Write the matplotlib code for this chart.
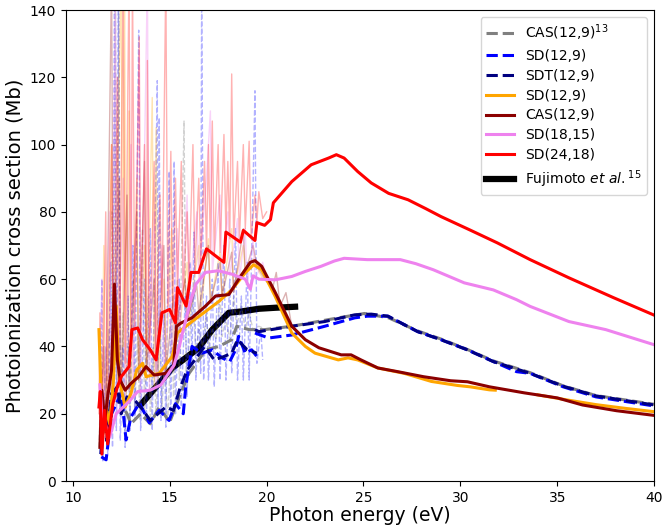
import matplotlib
matplotlib.use('Agg')
import matplotlib.pyplot as plt

# ---- smooth (convoluted) cross sections ----
red_x = [11.35, 11.42, 11.5, 11.64, 11.8, 12.07, 12.3, 12.5, 12.9, 13.05, 13.35, 13.6, 14.0, 14.3,
         14.6, 15.0, 15.3, 15.4, 15.85, 16.1, 16.5, 16.9, 17.8, 17.9, 18.65, 18.8, 19.4, 19.5, 19.9,
         20.2, 20.35, 21.3, 22.3, 23.2, 23.6, 24.0, 24.7, 25.4, 26.3, 27.3, 28.2, 29.0, 30.5, 31.9,
         33.6, 35.6, 37.9, 40.0]
red_y = [22, 26.6, 8, 21, 11, 23, 28, 31, 34, 45, 45.5, 42, 39, 36,
         50, 51, 47, 57.5, 52, 62, 62, 69, 65, 74, 71, 74.5, 71.5, 76.8, 76,
         77.7, 82.7, 89, 94, 96, 97, 96, 92, 88.6, 85.5, 83.6, 81, 78.6, 74.6, 70.8,
         65.8, 60.4, 54.5, 49.3]

violet_x = [11.4, 11.5, 11.9, 12.24, 12.9, 13.35, 14.0, 14.55, 15.23, 15.5, 15.66, 16.1, 16.35, 16.85,
            17.5, 18.2, 18.9, 19.16, 19.3, 19.6, 20.45, 21.3, 22.0, 22.8, 23.5, 24.0, 25.2, 26.9, 27.7,
            28.6, 30.2, 31.7, 32.9, 33.6, 35.6, 37.5, 40.0]
violet_y = [28.6, 20, 13, 20, 23.6, 26.6, 27, 28.6, 34.5, 40, 44, 54, 58.5, 62,
            62.5, 61.5, 60, 57, 61, 60, 59.8, 60.8, 62.3, 63.8, 65.4, 66.2, 65.8, 65.8, 64.6,
            62.8, 58.9, 56.8, 53.9, 51.9, 47.4, 45, 40.5]

darkred_x = [11.4, 11.5, 11.65, 11.8, 12.0, 12.15, 12.3, 12.45, 12.7, 13.0, 13.4, 13.78, 14.2, 14.8,
             15.2, 15.35, 15.6, 16.15, 16.85, 17.37, 18.05, 18.65, 19.16, 19.4, 19.75, 20.45, 21.3,
             22.0, 22.7, 23.85, 24.36, 24.87, 25.74, 26.77, 28.1, 29.5, 30.36, 31.5, 33.3, 35.0,
             36.3, 38.05, 40.0]
darkred_y = [10, 27, 18, 25, 33, 58.5, 36, 30, 27, 29, 31, 34, 31.5, 32,
             34, 46, 47, 48.5, 52, 55, 55.4, 60.8, 65, 65.5, 63.8, 56, 46,
             42, 39.6, 37.5, 37.5, 36, 33.6, 32.5, 31, 29.8, 29.5, 28, 26.2, 24.7,
             22.6, 20.9, 19.5]

orange_x = [11.35, 11.45, 11.55, 11.7, 11.9, 12.1, 12.24, 12.4, 12.7, 13.0, 13.3, 13.6, 13.78, 14.46,
            15.13, 15.4, 16.15, 16.85, 17.54, 18.2, 18.9, 19.33, 19.75, 20.45, 21.3, 22.0, 22.5,
            23.7, 24.2, 24.7, 25.74, 27.1, 28.5, 29.85, 30.5, 31.5, 31.8]
orange_y = [45, 28, 14, 22, 17, 30, 52, 30, 22, 26, 33, 35, 31, 32,
            37, 44, 47.4, 50.4, 53.4, 56.8, 61.9, 64.3, 62.8, 54.8, 44, 40, 38,
            36, 36.6, 36, 33.6, 32, 29.6, 28.4, 28, 27.1, 27]
orange2_x = [34.0, 35.5, 37.0, 38.5, 40.0]
orange2_y = [25.6, 24.1, 22.7, 21.6, 20.6]

blue_x = [11.47, 11.72, 12.0, 12.5, 12.75, 13.0, 13.44, 13.95, 14.46, 14.97, 15.3, 15.7, 15.83,
          16.15, 16.67, 17.2, 17.7, 18.1, 18.4, 18.56, 18.9, 19.23, 19.5]
blue_y = [7.2, 6.3, 20, 26, 12.2, 19, 23.2, 17.3, 21, 18, 23, 20, 28,
          40, 38, 39, 36.6, 35.5, 39, 43, 38, 39, 37]
blue2_x = [19.4, 20.1, 21.3, 23.0, 24.55, 25.2, 25.74, 26.26, 27.8, 29.0, 30.36, 31.7, 32.9,
           33.6, 35.3, 37.0, 40.0]
blue2_y = [44, 42.5, 43.4, 46, 48.5, 49, 49, 49, 44.4, 42, 39, 35.5, 32.5,
           32, 28, 25, 22.3]

navy_x = [11.45, 11.6, 11.75, 12.0, 12.3, 12.5, 12.8, 13.2, 13.5, 14.0, 14.4, 14.8, 15.2, 15.5,
          15.9, 16.3, 16.8, 17.3, 17.8, 18.2, 18.5, 19.0, 19.5]
navy_y = [8, 20, 12, 26, 28, 20, 25, 24, 22, 18, 20, 22, 21, 27,
          33, 36, 40, 36, 37, 38, 42, 39, 38]
navy2_x = [19.4, 19.6, 21.3, 23.0, 24.55, 25.4, 26.26, 27.8, 29.0, 30.36, 31.7, 33.6, 35.3, 37.0, 40.0]
navy2_y = [45, 44.4, 46, 47.4, 49.4, 49.6, 49, 44.4, 42, 39, 35.5, 32, 28.2, 25.3, 22.6]

gray_x = [11.45, 11.7, 12.0, 12.4, 12.8, 13.0, 13.5, 14.0, 14.46, 15.0, 15.5, 16.0, 16.5, 16.85,
          17.54, 18.2, 18.46, 19.1, 19.9, 21.3, 23.7, 25.05, 26.3, 27.8, 29.0, 30.4, 31.7, 33.6,
          35.3, 37.0, 40.0]
gray_y = [10, 18, 22, 24, 20, 17, 20, 17, 22, 17.5, 25, 32, 36, 39,
          40, 42, 46, 45, 45, 46, 48.5, 49.8, 48.5, 44.6, 42.2, 39, 35.7, 32.2,
          28.3, 25.4, 22.8]

fuji_x = [13.5, 14.3, 15.13, 15.83, 16.5, 17.2, 18.05, 18.7, 19.6, 20.45, 21.47]
fuji_y = [22.6, 28, 33.6, 36.6, 39.6, 45, 50, 50.4, 51.2, 51.5, 51.8]

# ---- raw (unconvoluted) spectra ----
raw_gray_x = [11.35, 11.45, 11.55, 11.65, 11.75, 11.85, 11.95, 12.02, 12.1, 12.2, 12.28, 12.38, 12.45,
              12.6, 12.7, 12.85, 12.95, 13.1, 13.2, 13.35, 13.45, 13.6, 13.7, 13.9, 14.0, 14.15, 14.3,
              14.5, 14.6, 14.75, 14.9, 15.1, 15.2, 15.4, 15.5, 15.74, 15.85, 16.0, 16.2, 16.35, 16.5,
              16.7, 16.9, 17.0, 17.2, 17.4, 17.6, 17.7, 17.9, 18.1, 18.3, 18.45, 18.7, 18.9, 19.1, 19.3,
              19.6, 20.0]
raw_gray_y = [10, 30, 8, 25, 12, 45, 15, 80, 20, 150, 25, 150, 20,
              50, 15, 40, 18, 60, 20, 45, 18, 75, 20, 55, 17, 40, 20,
              50, 22, 35, 18, 45, 25, 60, 30, 107, 32, 40, 55, 38, 45,
              40, 50, 40, 45, 42, 55, 43, 48, 42, 55, 46, 52, 45, 50, 45,
              46, 45]

raw_blue_x = [11.4, 11.5, 11.55, 11.7, 11.8, 11.95, 12.05, 12.15, 12.25, 12.35, 12.45, 12.6, 12.7,
              12.85, 12.95, 13.1, 13.2, 13.4, 13.5, 13.7, 13.8, 14.0, 14.1, 14.36, 14.4, 14.46, 14.55,
              14.7, 14.8, 14.97, 15.05, 15.23, 15.3, 15.5, 15.6, 15.8, 15.9, 16.05, 16.15, 16.26, 16.35,
              16.5, 16.6, 16.65, 16.75, 16.9, 17.0, 17.2, 17.3, 17.5, 17.6, 17.8, 17.9, 18.1, 18.2,
              18.4, 18.5, 18.7, 18.8, 19.0, 19.1, 19.4, 19.5, 19.7, 19.8]
raw_blue_y = [8, 60, 6, 40, 8, 65, 10, 150, 15, 150, 12, 40, 10,
              55, 15, 70, 18, 134, 15, 60, 18, 75, 15, 119, 20, 108, 18,
              50, 16, 92, 18, 95, 20, 60, 22, 55, 25, 65, 35, 74, 30,
              50, 32, 150, 30, 55, 30, 60, 28, 65, 30, 70, 30, 60, 32,
              75, 30, 55, 30, 65, 30, 116, 35, 45, 36]

raw_orange_x = [11.35, 11.5, 11.6, 11.7, 12.0, 12.1, 12.5, 12.6, 12.67, 12.75, 12.9, 13.0, 13.3, 13.4,
                13.7, 13.8, 14.1, 14.2, 14.3, 14.4, 14.7, 14.8, 15.1, 15.2, 15.4, 15.5, 15.9, 16.0,
                16.5, 16.6, 17.0, 17.1, 17.6, 17.7, 18.2, 18.3, 18.8, 18.9, 19.3, 19.8]
raw_orange_y = [45, 20, 70, 15, 100, 25, 150, 40, 150, 25, 110, 25, 90, 30,
                70, 30, 114, 28, 105, 30, 60, 32, 75, 36, 55, 45, 65, 48,
                70, 50, 72, 53, 68, 55, 75, 57, 70, 62, 66, 60]

raw_red_x = [11.35, 11.4, 11.5, 11.7, 11.8, 12.0, 12.1, 12.3, 12.4, 12.6, 12.7, 12.9, 13.0, 13.08,
             13.2, 13.43, 13.5, 13.7, 13.8, 13.85, 13.95, 14.2, 14.3, 14.5, 14.6, 14.8, 14.9, 15.06,
             15.15, 15.3, 15.4, 15.6, 15.7, 15.9, 16.0, 16.2, 16.3, 16.5, 16.6, 16.8, 16.9, 17.0,
             17.1, 17.2, 17.3, 17.5, 17.6, 17.8, 17.9, 18.0, 18.1, 18.2, 18.3, 18.5, 18.6, 18.8,
             18.9, 19.1, 19.2, 19.4, 19.5, 19.6, 19.8, 20.0]
raw_red_y = [20, 50, 10, 80, 12, 100, 25, 120, 30, 150, 35, 150, 40, 150,
             45, 132, 45, 100, 40, 125, 38, 95, 38, 85, 50, 150, 52, 98,
             50, 90, 58, 95, 55, 80, 60, 100, 62, 90, 65, 95, 68, 100,
             68, 107, 67, 100, 68, 103, 74, 95, 72, 121, 72, 95, 72, 100,
             75, 101, 72, 85, 77, 86, 78, 80]

raw_violet_x = [11.4, 11.5, 11.6, 11.9, 12.0, 12.2, 12.3, 12.6, 12.7, 13.0, 13.1, 13.43, 13.5, 13.85,
                13.95, 14.2, 14.3, 14.6, 14.7, 15.0, 15.1, 15.4, 15.5, 15.9, 16.0, 16.4, 16.5, 16.9,
                17.1, 17.2, 17.6, 17.7, 18.0, 18.1, 18.5, 18.6, 18.9, 19.0, 19.3, 19.4, 19.8, 20.0]
raw_violet_y = [28, 60, 15, 80, 15, 150, 20, 90, 22, 100, 25, 128, 25, 150,
                27, 80, 28, 70, 30, 60, 35, 75, 42, 85, 55, 80, 60, 90,
                110, 62, 85, 62, 80, 61, 78, 60, 75, 58, 72, 60, 65, 60]

raw_darkred_x = [11.4, 11.6, 11.7, 12.0, 12.1, 12.4, 12.5, 12.8, 12.9, 13.3, 13.4, 13.7, 13.8, 14.2,
                 14.3, 14.7, 14.8, 15.2, 15.3, 15.8, 15.9, 16.4, 16.5, 17.0, 17.1, 17.6, 17.7, 18.2,
                 18.3, 18.8, 18.9, 19.3, 19.5, 19.9, 20.3, 20.5, 20.7, 21.0, 21.3]
raw_darkred_y = [12, 40, 18, 150, 35, 90, 25, 85, 27, 80, 30, 95, 33, 60,
                 31, 70, 32, 55, 45, 60, 48, 58, 50, 70, 53, 65, 55, 68,
                 56, 75, 62, 70, 64, 60, 57, 62, 52, 56, 46]

fig = plt.figure(figsize=(6.62, 5.25), dpi=100)
ax = fig.add_axes([0.0997, 0.0838, 0.8885, 0.8971])

# faint raw spectra underneath
ax.plot(raw_gray_x, raw_gray_y, color='grey', ls='--', lw=1, alpha=0.35)
ax.plot(raw_blue_x, raw_blue_y, color='blue', ls='--', lw=1, alpha=0.3)
ax.plot(raw_orange_x, raw_orange_y, color='orange', lw=1, alpha=0.3)
ax.plot(raw_darkred_x, raw_darkred_y, color='darkred', lw=1, alpha=0.3)
ax.plot(raw_violet_x, raw_violet_y, color='violet', lw=1, alpha=0.35)
ax.plot(raw_red_x, raw_red_y, color='red', lw=1, alpha=0.3)

# smooth curves
ax.plot(gray_x, gray_y, color='grey', ls='--', lw=2.2, label=r'CAS(12,9)$^{13}$')
ax.plot(blue_x, blue_y, color='blue', ls='--', lw=2.2, label='SD(12,9)')
ax.plot(blue2_x, blue2_y, color='blue', ls='--', lw=2.2)
ax.plot(navy_x, navy_y, color='navy', ls='--', lw=2.2, label='SDT(12,9)')
ax.plot(navy2_x, navy2_y, color='navy', ls='--', lw=2.2)
ax.plot(orange_x, orange_y, color='orange', lw=2.2, label='SD(12,9)')
ax.plot(orange2_x, orange2_y, color='orange', lw=2.2)
ax.plot(fuji_x, fuji_y, color='black', lw=4.5, label=r'Fujimoto $et\ al.^{15}$', zorder=1.9)
ax.plot(darkred_x, darkred_y, color='darkred', lw=2.2, label='CAS(12,9)')
ax.plot(violet_x, violet_y, color='violet', lw=2.2, label='SD(18,15)')
ax.plot(red_x, red_y, color='red', lw=2.2, label='SD(24,18)')

ax.set_xlim(9.65, 40)
ax.set_ylim(0, 140)
ax.set_xticks([10, 15, 20, 25, 30, 35, 40])
ax.set_yticks([0, 20, 40, 60, 80, 100, 120, 140])
ax.tick_params(labelsize=10)
ax.set_xlabel('Photon energy (eV)', fontsize=13.5, labelpad=1)
ax.set_ylabel('Photoionization cross section (Mb)', fontsize=14)

handles, labels = ax.get_legend_handles_labels()
order = [0, 1, 2, 3, 5, 6, 7, 4]
ax.legend([handles[i] for i in order], [labels[i] for i in order], loc='upper right',
          fontsize=10, labelspacing=0.42)

plt.savefig('out.png', dpi=100)
plt.close()
